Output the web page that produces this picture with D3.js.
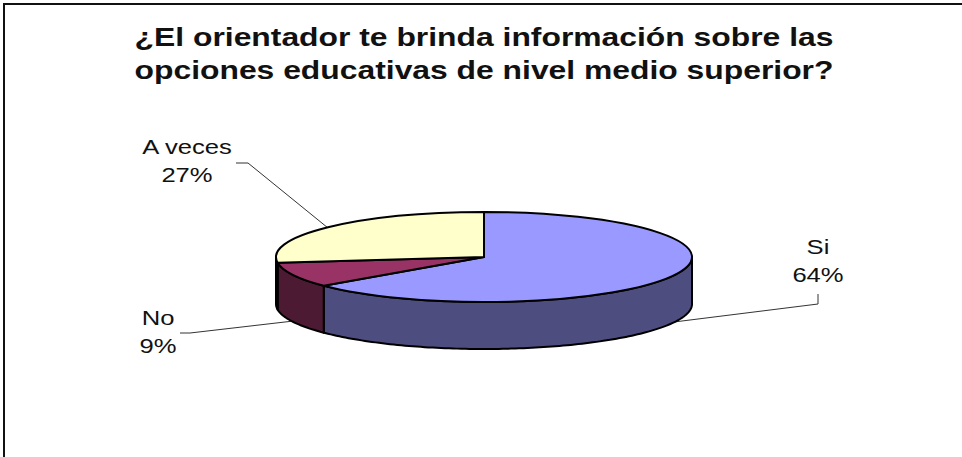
<!DOCTYPE html>
<html>
<head>
<meta charset="utf-8">
<script src="https://cdn.jsdelivr.net/npm/d3@7"></script>
<style>
body { margin: 0; background: white; }
svg { display: block; }
text { font-family: "Liberation Sans", Arial, sans-serif; fill: #111; }
</style>
</head>
<body>
<div id="chart"></div>
<script>
const categories = ["Si", "No", "A veces"];
const values = [64, 9, 27];
const topColors = ["#9999ff", "#993366", "#ffffcc"];
const sideColors = ["#4d4d80", "#4d1a33", "#808066"];
const titleLines = ["¿El orientador te brinda información sobre las",
                    "opciones educativas de nivel medio superior?"];

const width = 962, height = 457;
const cx = 484, cy = 257, rx = 208, ry = 45, depth = 47;

const svg = d3.select("#chart").append("svg")
    .attr("width", width)
    .attr("height", height);

// Chart frame, the right and bottom edges are cut off
svg.append("path")
    .attr("d", `M4,${height} V4 H${width}`)
    .attr("fill", "none")
    .attr("stroke", "#111")
    .attr("stroke-width", 2);

// Title, text in the picture is stretched sideways
svg.selectAll("text.title")
    .data(titleLines)
    .enter()
    .append("text")
    .attr("class", "title")
    .attr("text-anchor", "middle")
    .attr("font-size", "26px")
    .attr("font-weight", "bold")
    .attr("transform", (d, i) => `translate(484,${45.5 + i * 33.5}) scale(1.225,1)`)
    .text(d => d);

const pie = d3.pie().sort(null)(values);

// point on the flattened ellipse, angle clockwise from 12 o'clock
const px = a => cx + rx * Math.sin(a);
const py = a => cy - ry * Math.cos(a);

// Leader lines go under the pie
const leaders = [
    [[px(1.98), py(1.98) + depth], [818, 304], [818, 294]],
    [[px(4.32), py(4.32) + depth], [190, 333], [180, 333]],
    [[px(5.43), py(5.43)], [248, 163], [236, 163]]
];
svg.selectAll("path.leader")
    .data(leaders)
    .enter()
    .append("path")
    .attr("class", "leader")
    .attr("fill", "none")
    .attr("stroke", "#333")
    .attr("stroke-width", 1)
    .attr("d", d3.line());

// Side wall: only the part of each slice facing the viewer
const wall = (a0, a1) => {
    const start = Math.max(a0, Math.PI / 2);
    const end = Math.min(a1, Math.PI * 1.5);
    if (end <= start) return null;
    const steps = d3.range(start, end, 0.02).concat(end);
    const upper = steps.map(a => [px(a), py(a)]);
    const lower = steps.slice().reverse().map(a => [px(a), py(a) + depth]);
    return d3.line()(upper.concat(lower)) + "Z";
};

svg.selectAll("path.wall")
    .data(pie)
    .enter()
    .append("path")
    .attr("class", "wall")
    .attr("d", d => wall(d.startAngle, d.endAngle))
    .attr("fill", (d, i) => sideColors[i])
    .attr("stroke", "#000")
    .attr("stroke-width", 2)
    .attr("stroke-linejoin", "round");

// Top face
const arc = d3.arc().innerRadius(0).outerRadius(rx);
svg.append("g")
    .attr("transform", `translate(${cx},${cy}) scale(1,${ry / rx})`)
    .selectAll("path")
    .data(pie)
    .enter()
    .append("path")
    .attr("d", arc)
    .attr("fill", (d, i) => topColors[i])
    .attr("stroke", "#000")
    .attr("stroke-width", 2)
    .attr("vector-effect", "non-scaling-stroke")
    .attr("stroke-linejoin", "round");

// Labels
const labelPos = [[818, 254], [158, 325], [187, 154]];
categories.forEach((c, i) => {
    const t = svg.append("text")
        .attr("text-anchor", "middle")
        .attr("font-size", "21px")
        .attr("transform", `translate(${labelPos[i][0]},${labelPos[i][1]}) scale(1.22,1)`);
    t.append("tspan").attr("x", 0).text(c);
    t.append("tspan").attr("x", 0).attr("dy", 28).text(values[i] + "%");
});
</script>
</body>
</html>
